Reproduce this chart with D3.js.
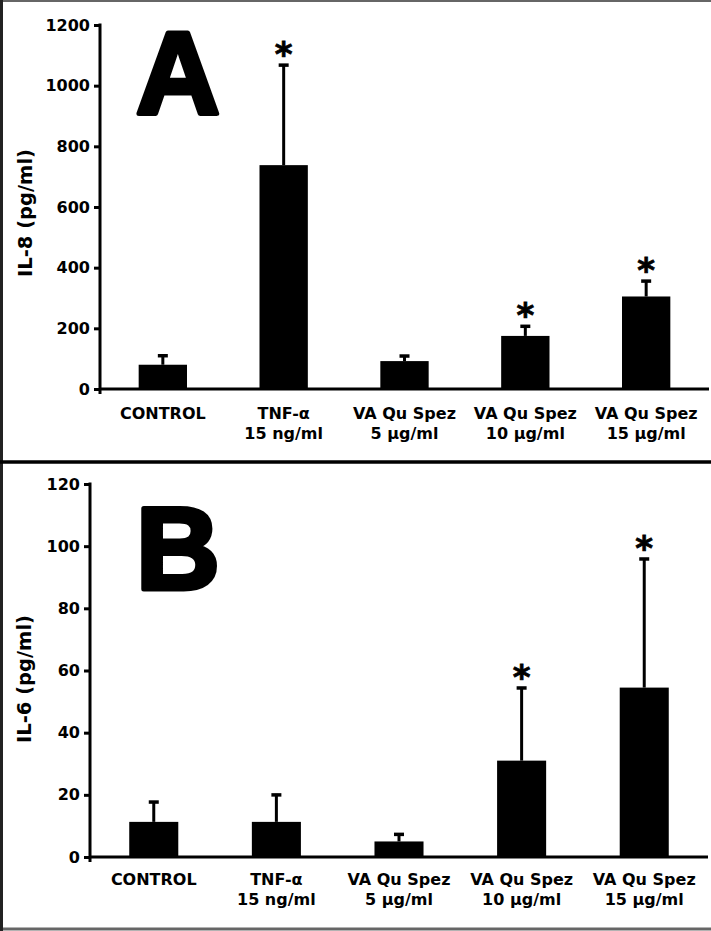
<!DOCTYPE html>
<html>
<head>
<meta charset="utf-8">
<script src="https://cdn.jsdelivr.net/npm/d3@7"></script>
<style>
  body { margin: 0; background: #fff; }
  svg { display: block; }
</style>
</head>
<body>
<svg width="711" height="931"></svg>
<script>
const svg = d3.select("svg");

// groups on the x axis (two label lines)
const groupLine1 = ["CONTROL", "TNF-\u03b1", "VA Qu Spez", "VA Qu Spez", "VA Qu Spez"];
const groupLine2 = ["", "15 ng/ml", "5 \u00b5g/ml", "10 \u00b5g/ml", "15 \u00b5g/ml"];

// panel A: IL-8 (pg/ml)
const il8Mean = [80, 738, 92, 175, 305];
const il8Err = [33, 333, 20, 35, 54];
const il8Sig = [false, true, false, true, true];
const il8Ticks = [0, 200, 400, 600, 800, 1000, 1200];

// panel B: IL-6 (pg/ml)
const il6Mean = [11.3, 11.3, 5, 31, 54.5];
const il6Err = [6.7, 9, 2.6, 23.7, 41.7];
const il6Sig = [false, false, false, true, true];
const il6Ticks = [0, 20, 40, 60, 80, 100, 120];

const font = "'DejaVu Sans', Verdana, sans-serif";

// frame lines
svg.append("line").attr("x1", 0).attr("x2", 711).attr("y1", 1).attr("y2", 1)
    .attr("stroke", "#666").attr("stroke-width", 2);
svg.append("line").attr("x1", 0).attr("x2", 711).attr("y1", 929).attr("y2", 929)
    .attr("stroke", "#666").attr("stroke-width", 3);
svg.append("line").attr("x1", 1.5).attr("x2", 1.5).attr("y1", 0).attr("y2", 931)
    .attr("stroke", "#222").attr("stroke-width", 3);
svg.append("line").attr("x1", 0).attr("x2", 711).attr("y1", 462).attr("y2", 462)
    .attr("stroke", "#000").attr("stroke-width", 3.5);

function drawPanel(p) {
    const g = svg.append("g");

    const x = d3.scaleBand()
        .domain(d3.range(groupLine1.length))
        .range([p.axisX, p.xEnd])
        .paddingInner(0.6)
        .paddingOuter(0.32);

    const y = d3.scaleLinear()
        .domain([0, d3.max(p.ticks)])
        .range([p.y0, p.yTop]);

    const cx = i => x(i) + x.bandwidth() / 2;
    const rows = p.mean.map((m, i) => ({ i, m, top: m + p.err[i], sig: p.sig[i] }));

    // bars
    g.selectAll(".bar")
        .data(rows)
        .enter()
        .append("rect")
        .attr("class", "bar")
        .attr("x", d => x(d.i))
        .attr("y", d => y(d.m))
        .attr("width", x.bandwidth())
        .attr("height", d => y(0) - y(d.m))
        .attr("fill", "#000");

    // error bars (upper only)
    g.selectAll(".err")
        .data(rows)
        .enter()
        .append("line")
        .attr("x1", d => cx(d.i))
        .attr("x2", d => cx(d.i))
        .attr("y1", d => y(d.m))
        .attr("y2", d => y(d.top))
        .attr("stroke", "#000")
        .attr("stroke-width", 3);

    g.selectAll(".cap")
        .data(rows)
        .enter()
        .append("line")
        .attr("x1", d => cx(d.i) - 5)
        .attr("x2", d => cx(d.i) + 5)
        .attr("y1", d => y(d.top) + 1)
        .attr("y2", d => y(d.top) + 1)
        .attr("stroke", "#000")
        .attr("stroke-width", 3.5);

    // significance stars
    g.selectAll(".star")
        .data(rows.filter(d => d.sig))
        .enter()
        .append("text")
        .attr("x", d => cx(d.i))
        .attr("y", d => y(d.top) + 2)
        .attr("text-anchor", "middle")
        .attr("font-family", font)
        .attr("font-weight", "bold")
        .attr("font-size", 34)
        .attr("stroke", "#000")
        .attr("stroke-width", 0.8)
        .text("*");

    // y axis
    const yAxis = g.append("g")
        .attr("transform", `translate(${p.axisX},0)`)
        .call(d3.axisLeft(y).tickValues(p.ticks).tickFormat(d3.format("d"))
            .tickSize(6).tickSizeOuter(0).tickPadding(4));
    yAxis.select(".domain").remove();
    yAxis.selectAll(".tick line").attr("stroke", "#000").attr("stroke-width", 3);
    yAxis.selectAll(".tick text")
        .attr("font-family", font)
        .attr("font-weight", "bold")
        .attr("font-size", 16)
        .attr("fill", "#000");
    yAxis.append("line")
        .attr("x1", 0).attr("x2", 0)
        .attr("y1", y(d3.max(p.ticks)) - 1.5)
        .attr("y2", y(0) + 5)
        .attr("stroke", "#000")
        .attr("stroke-width", 3);

    // x axis
    g.append("line")
        .attr("x1", p.axisX).attr("x2", p.xEnd)
        .attr("y1", y(0)).attr("y2", y(0))
        .attr("stroke", "#000")
        .attr("stroke-width", 3);

    const labels = g.selectAll(".xlab")
        .data(groupLine1)
        .enter()
        .append("text")
        .attr("text-anchor", "middle")
        .attr("font-family", font)
        .attr("font-weight", "bold")
        .attr("font-size", 16)
        .attr("fill", "#000");
    labels.append("tspan")
        .attr("x", (d, i) => cx(i))
        .attr("y", y(0) + p.labelGap)
        .text(d => d);
    labels.append("tspan")
        .attr("x", (d, i) => cx(i))
        .attr("y", y(0) + p.labelGap + 20)
        .text((d, i) => groupLine2[i]);

    // y title
    g.append("text")
        .attr("transform", `translate(${p.titleX},${p.titleY}) rotate(-90)`)
        .attr("text-anchor", "middle")
        .attr("font-family", font)
        .attr("font-weight", "bold")
        .attr("font-size", 19.5)
        .text(p.title);

    // panel letter
    g.append("text")
        .attr("x", 178)
        .attr("y", p.letterY)
        .attr("text-anchor", "middle")
        .attr("font-family", "'Liberation Sans', Arial, sans-serif")
        .attr("font-weight", "bold")
        .attr("font-size", 116)
        .attr("stroke", "#000")
        .attr("stroke-width", 5)
        .attr("stroke-linejoin", "round")
        .text(p.letter);
}

drawPanel({
    mean: il8Mean, err: il8Err, sig: il8Sig, ticks: il8Ticks,
    axisX: 100, xEnd: 709, yTop: 25, y0: 389, labelGap: 30,
    title: "IL-8 (pg/ml)", titleX: 32, titleY: 213,
    letter: "A", letterY: 114
});

drawPanel({
    mean: il6Mean, err: il6Err, sig: il6Sig, ticks: il6Ticks,
    axisX: 90, xEnd: 708, yTop: 484, y0: 857, labelGap: 28,
    title: "IL-6 (pg/ml)", titleX: 31, titleY: 679,
    letter: "B", letterY: 589
});
</script>
</body>
</html>
